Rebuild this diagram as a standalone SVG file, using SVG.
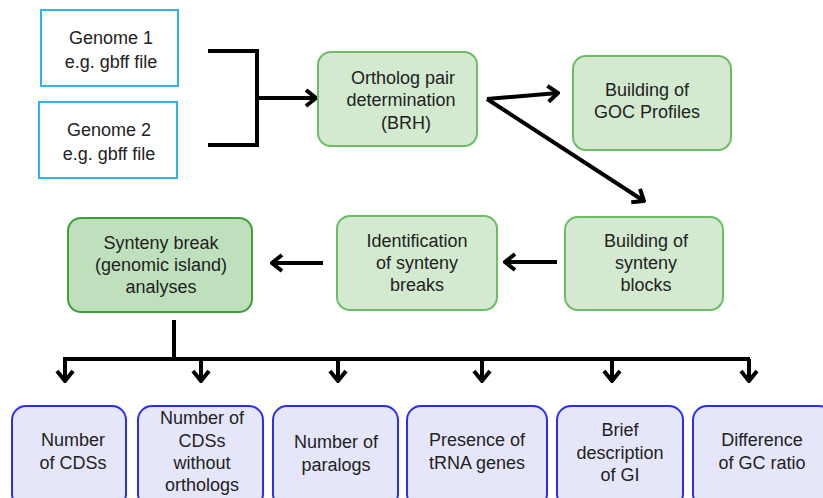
<svg xmlns="http://www.w3.org/2000/svg" width="823" height="498" viewBox="0 0 823 498">
<style>
text{font-family:"Liberation Sans",Arial,sans-serif;font-size:18px;fill:#222;text-anchor:middle}
.in{fill:#fff;stroke:#2db4ec;stroke-width:2}
.gr{fill:#d3ead0;stroke:#6cbd66;stroke-width:2}
.dg{fill:#bfe0bc;stroke:#3f9e3a;stroke-width:2}
.bl{fill:#e6e6fb;stroke:#2a2ef0;stroke-width:2}
.ln{fill:none;stroke:#000;stroke-width:4}
.ar{fill:none;stroke:#000;stroke-width:4;marker-end:url(#ah)}
</style>
<defs>
<marker id="ah" viewBox="0 0 14 20" refX="12" refY="10" markerWidth="14" markerHeight="20" markerUnits="userSpaceOnUse" orient="auto">
<path d="M2,2 L12,10 L2,18" fill="none" stroke="#000" stroke-width="4"/>
</marker>
</defs>
<g id="connectors">
<path class="ln" d="M208,51 H257 V145 H208"/>
<path class="ar" d="M257,98 H316"/>
<path class="ar" d="M487,99 L558,93"/>
<path class="ar" d="M487,99 L644,201"/>
<path class="ar" d="M557,262 H505"/>
<path class="ar" d="M323,263 H272"/>
<path class="ln" d="M174,320 V359 M63,359 H750"/>
<path class="ar" d="M65,359 V381"/>
<path class="ar" d="M201,359 V381"/>
<path class="ar" d="M338,359 V381"/>
<path class="ar" d="M482,359 V381"/>
<path class="ar" d="M612,359 V381"/>
<path class="ar" d="M749,359 V381"/>
</g>
<g id="genome1"><rect class="in" x="41" y="10" width="137" height="76"/><text x="111" y="44">Genome 1</text><text x="111" y="68">e.g. gbff file</text></g>
<g id="genome2"><rect class="in" x="39" y="102" width="138" height="76"/><text x="109" y="136">Genome 2</text><text x="109" y="160">e.g. gbff file</text></g>
<g id="ortholog"><rect class="gr" x="318" y="52" width="159" height="94" rx="13"/><text x="403" y="84">Ortholog pair</text><text x="401" y="106">determination</text><text x="406" y="129">(BRH)</text></g>
<g id="goc"><rect class="gr" x="573" y="56" width="158" height="94" rx="13"/><text x="647" y="96">Building of</text><text x="647" y="118">GOC Profiles</text></g>
<g id="blocks"><rect class="gr" x="565" y="217" width="158" height="93" rx="13"/><text x="646" y="247">Building of</text><text x="646" y="269">synteny</text><text x="646" y="291">blocks</text></g>
<g id="breaks"><rect class="gr" x="337" y="216" width="160" height="94" rx="13"/><text x="417" y="247">Identification</text><text x="417" y="269">of synteny</text><text x="417" y="291">breaks</text></g>
<g id="analyses"><rect class="dg" x="68" y="218" width="184" height="94" rx="13"/><text x="161" y="249">Synteny break</text><text x="161" y="271">(genomic island)</text><text x="161" y="293">analyses</text></g>
<g id="b1"><rect class="bl" x="12" y="406" width="114" height="102" rx="14"/><text x="73" y="446">Number</text><text x="73" y="469">of CDSs</text></g>
<g id="b2"><rect class="bl" x="138" y="406" width="125" height="102" rx="14"/><text x="202" y="424">Number of</text><text x="202" y="447">CDSs</text><text x="202" y="469">without</text><text x="202" y="491">orthologs</text></g>
<g id="b3"><rect class="bl" x="273" y="406" width="125" height="102" rx="14"/><text x="336" y="448">Number of</text><text x="336" y="471">paralogs</text></g>
<g id="b4"><rect class="bl" x="407" y="406" width="140" height="102" rx="14"/><text x="477" y="446">Presence of</text><text x="477" y="469">tRNA genes</text></g>
<g id="b5"><rect class="bl" x="557" y="406" width="126" height="102" rx="14"/><text x="620" y="436">Brief</text><text x="620" y="459">description</text><text x="620" y="481">of GI</text></g>
<g id="b6"><rect class="bl" x="693" y="406" width="140" height="102" rx="14"/><text x="762" y="446">Difference</text><text x="762" y="469">of GC ratio</text></g>
</svg>
